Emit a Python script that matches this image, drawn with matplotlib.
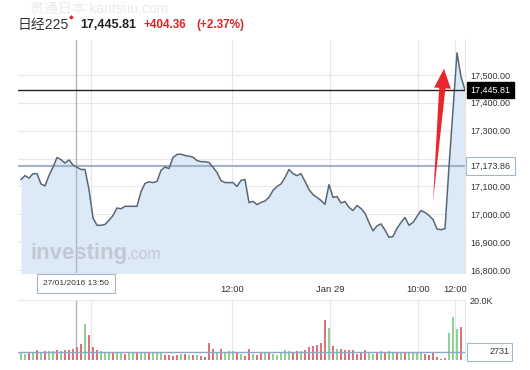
import matplotlib.pyplot as plt
from matplotlib.patches import Rectangle
import numpy as np

plt.rcParams['font.family'] = ['Liberation Sans', 'Noto Sans CJK SC', 'DejaVu Sans']

# 日经225, 5-min closes
price = [17125, 17139, 17130, 17146, 17146, 17109, 17102, 17139, 17169, 17204,
         17196, 17184, 17195, 17177, 17169, 17161, 17161, 17089, 16987, 16961,
         16961, 16964, 16979, 16996, 17023, 17020, 17029, 17029, 17029, 17029,
         17081, 17111, 17117, 17114, 17118, 17158, 17170, 17164, 17204, 17215,
         17216, 17211, 17209, 17205, 17193, 17189, 17189, 17186, 17169, 17150,
         17121, 17114, 17114, 17114, 17100, 17122, 17125, 17042, 17047, 17035,
         17043, 17048, 17061, 17086, 17100, 17109, 17132, 17161, 17146, 17139,
         17146, 17118, 17089, 17071, 17061, 17050, 17036, 17107, 17061, 17064,
         17041, 17046, 17025, 17014, 17032, 17021, 17004, 16971, 16941, 16959,
         16966, 16944, 16918, 16921, 16950, 16971, 16989, 16961, 16971, 16993,
         17014, 17007, 16996, 16982, 16948, 16945, 16949, 17171, 17375, 17579,
         17493, 17445.81]

volume = [2300, 2000, 2500, 2700, 3400, 2600, 3000, 3100, 2900, 3200,
          3000, 3500, 3200, 3800, 4500, 5200, 12000, 8200, 4200, 3300,
          2900, 2700, 2800, 2600, 2200, 2400, 2000, 2500, 2700, 2300,
          2600, 2400, 2500, 2700, 2200, 2500, 1800, 1600, 1500, 1700,
          2000, 1900, 1700, 1600, 1800, 1500, 900, 5600, 3800, 2800,
          3600, 2600, 3000, 2900, 2500, 2100, 1500, 3800, 2100, 1800,
          2600, 2300, 2500, 2000, 1800, 2600, 3200, 3100, 2800, 3000,
          2900, 3400, 4200, 4600, 5000, 5600, 13200, 10800, 4800, 3800,
          3600, 3500, 3400, 3500, 2000, 2400, 3300, 2200, 2000, 2400,
          2900, 2700, 3000, 2500, 2600, 2300, 2200, 2400, 2600, 2700,
          2200, 2000, 1800, 2400, 1000, 500, 800, 9000, 14300, 10300,
          11000, 0]

# u = up bar (green), d = down bar (red)
vol_dir = ("uudududuud" "uddddduddd" "uuuduuduud" "uuduuudddd" "udududdddu"
           "duuududdud" "duduuuuudd" "uddddddudu" "ddddddduud" "uduududuuu"
           "udddddduuu" "dd")

time_ticks = [17.5, 52.75, 77.25, 99.25, 108.5]
time_labels = ['', '12:00', 'Jan 29', '10:00', '12:00']
cursor_x = 13.75
cursor_label = '27/01/2016 13:50'

last_price = 17445.81
ref_price = 17173.86
avg_volume = 2731

fig = plt.figure(figsize=(5.3, 3.7), dpi=100)
ax = fig.add_axes([18/530, 1-273/370, 447/530, 233/370])
axv = fig.add_axes([18/530, 1-360/370, 447/530, 60/370])

x = np.arange(len(price))

# price panel
ax.fill_between(x, price, 16700, color='#dce9f7', lw=0, zorder=1)
ax.plot(x, price, color='#5b6675', lw=1.1, zorder=3)
ax.set_xlim(-0.75, 111)
ax.set_ylim(16790, 17625)

yt = list(range(16800, 17600, 100))
ax.set_yticks(yt)
# the 17,200 label sits under the reference-price box
ax.set_yticklabels(['' if v == 17200 else f'{v:,.2f}' for v in yt])
ax.yaxis.tick_right()
ax.set_xticks(time_ticks)
ax.set_xticklabels(time_labels)
ax.tick_params(axis='y', length=0, labelsize=6.5, colors='#333333', pad=3.5)
ax.tick_params(axis='x', length=0, labelsize=6.8, colors='#333333', pad=9)
ax.grid(axis='y', color='#e8e8e8', lw=0.8)
ax.grid(axis='x', color='#e2e7ee', lw=0.8)
ax.set_axisbelow(True)
for s in ['top', 'left', 'bottom']:
    ax.spines[s].set_visible(False)
ax.spines['right'].set_color('#e6e6e6')

ax.axvline(cursor_x, color='#a9b8c8', lw=1, zorder=2)
ax.axhline(ref_price, color='#9fb2c6', lw=1.5, zorder=2)
ax.axhline(last_price, color='#222222', lw=1, zorder=4)

ax.text(0.027, 0.06, 'investing', transform=ax.transAxes, fontsize=16,
        fontweight='bold', color='#bfc5ce', alpha=0.9, zorder=2)
ax.text(0.242, 0.06, '.com', transform=ax.transAxes, fontsize=11.5,
        color='#bfc5ce', alpha=0.9, zorder=2)

# value boxes on the right
ax.annotate(f'{last_price:,.2f}', xy=(1, last_price), xycoords=('axes fraction', 'data'),
            xytext=(4, 0), textcoords='offset points', va='center', ha='left',
            fontsize=6.5, color='white', annotation_clip=False, zorder=6,
            bbox=dict(boxstyle='square,pad=0.35', fc='black', ec='black'))
ax.annotate(f'{ref_price:,.2f}', xy=(1, ref_price), xycoords=('axes fraction', 'data'),
            xytext=(4, 0), textcoords='offset points', va='center', ha='left',
            fontsize=6.5, color='#333333', annotation_clip=False, zorder=6,
            bbox=dict(boxstyle='square,pad=0.5', fc='white', ec='#9fb8d0', lw=0.8))

# cursor date box
ax.annotate(cursor_label, xy=(cursor_x, 0), xycoords=('data', 'axes fraction'),
            xytext=(0, -7.5), textcoords='offset points', ha='center', va='center',
            fontsize=6, color='#333333', annotation_clip=False, zorder=6,
            bbox=dict(boxstyle='square,pad=0.75', fc='white', ec='#a7b6c6', lw=0.8))

# red arrow
ax.annotate('', xy=(103, 17046), xytext=(105.3, 17450),
            arrowprops=dict(arrowstyle='wedge,tail_width=0.45,shrink_factor=0.5',
                            color='#e8262c', lw=0, shrinkA=0, shrinkB=0), zorder=7)
ax.annotate('', xy=(105.75, 17522), xytext=(105.3, 17440),
            arrowprops=dict(arrowstyle='simple,head_length=1.4,head_width=1.2,tail_width=0.45',
                            color='#e8262c', lw=0, shrinkA=0, shrinkB=0), zorder=7)

# volume panel
colors = ['#92cf94' if d == 'u' else '#d9747e' for d in vol_dir]
axv.bar(x, volume, width=0.5, color=colors, zorder=2)
axv.set_xlim(-0.75, 111)
axv.set_ylim(0, 20000)
axv.set_xticks(time_ticks)
axv.set_xticklabels([])
axv.yaxis.tick_right()
axv.set_yticks([20000])
axv.set_yticklabels(['20.0K'])
axv.tick_params(axis='y', length=0, labelsize=6.5, colors='#333333', pad=3.5)
axv.tick_params(axis='x', length=0)
axv.grid(axis='x', color='#e2e7ee', lw=0.8)
axv.set_axisbelow(True)
axv.axvline(cursor_x, color='#a9b8c8', lw=1, zorder=1)
axv.axhline(avg_volume, color='#8ea8c4', lw=1, zorder=3)
for s in ['left', 'bottom']:
    axv.spines[s].set_visible(False)
axv.spines['top'].set_color('#ececec')
axv.spines['right'].set_color('#e6e6e6')

box = Rectangle((467/530, 1-361/370), 45/530, 18/370, transform=fig.transFigure,
                fc='white', ec='#9fb8d0', lw=0.8, clip_on=False, zorder=5)
axv.add_patch(box)
axv.annotate(str(avg_volume), xy=(1, avg_volume), xycoords=('axes fraction', 'data'),
             xytext=(25, 0), textcoords='offset points', va='center', ha='center',
             fontsize=6.5, color='#333333', annotation_clip=False, zorder=6)

# header
fig.text(0.057, 0.975, '贯通日本 kantsuu.com', fontsize=10, color='#ebebeb', va='center')
fig.text(18/530, 0.932, '日经225', fontsize=10, color='#333333', va='center')
fig.text(69/530, 0.952, '◆', fontsize=4.5, color='#e0242b', va='center', family='DejaVu Sans')
fig.text(80/530, 0.932, '17,445.81', fontsize=9, fontweight='bold', color='#222222', va='center')
fig.text(143/530, 0.932, '+404.36', fontsize=8.5, fontweight='bold', color='#d9252b', va='center')
fig.text(196/530, 0.932, '(+2.37%)', fontsize=8.5, fontweight='bold', color='#d9252b', va='center')

fig.savefig('out.png', dpi=100)
